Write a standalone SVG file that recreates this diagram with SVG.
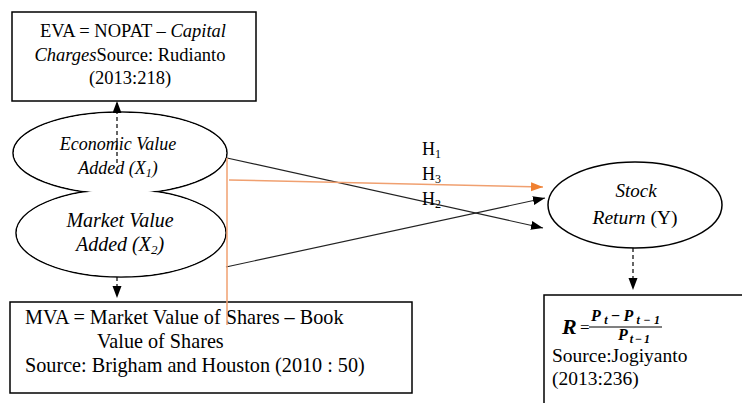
<svg xmlns="http://www.w3.org/2000/svg" width="742" height="403" viewBox="0 0 742 403">
<style>
.box{fill:#fff;stroke:#000;stroke-width:1.5}
.ol{fill:none;stroke:#000;stroke-width:1.5}
.fl{fill:#fff;stroke:none}
.t{font-family:"Liberation Serif",serif;font-size:18.5px;fill:#000}
.i{font-style:italic}
.ln{stroke:#222;stroke-width:1.2;fill:none}
.or{stroke:#f0a070;stroke-width:1.5;fill:none}
.dash{stroke:#000;stroke-width:1.2;stroke-dasharray:4,3;fill:none}
.m{font-family:"Liberation Serif",serif;font-weight:bold;font-style:italic;fill:#000}
</style>
<defs>
<marker id="ab" markerUnits="userSpaceOnUse" markerWidth="13" markerHeight="10" refX="12" refY="4.5" orient="auto"><path d="M0,0 L12,4.5 L0,9 z" fill="#000"/></marker>
<marker id="ao" markerUnits="userSpaceOnUse" markerWidth="13" markerHeight="10" refX="12" refY="4.5" orient="auto"><path d="M0,0 L12,4.5 L0,9 z" fill="#f08030"/></marker>
</defs>
<rect width="742" height="403" fill="#fff"/>
<g id="eva-box">
<rect class="box" x="12" y="12" width="244" height="89"/>
<text class="t" x="133" y="37" text-anchor="middle">EVA = NOPAT – <tspan class="i">Capital</tspan></text>
<text class="t" x="130" y="61" text-anchor="middle"><tspan class="i">Charges</tspan>Source: Rudianto</text>
<text class="t" x="130" y="84" text-anchor="middle">(2013:218)</text>
</g>
<g id="mva-box">
<rect class="box" x="10" y="302" width="402" height="91"/>
<text class="t" x="25" y="324" style="font-size:20.2px">MVA = Market Value of Shares – Book</text>
<text class="t" x="97" y="348" style="font-size:20.2px">Value of Shares</text>
<text class="t" x="25" y="372" style="font-size:20.2px">Source: Brigham and Houston (2010 : 50)</text>
</g>
<g id="r-box">
<rect class="box" x="544" y="295" width="210" height="120"/>
<text class="m" x="562" y="334" style="font-size:22px">R</text>
<text class="t" x="580" y="333" style="font-size:17px">=</text>
<text class="m" x="591" y="321" style="font-size:16px" textLength="69" lengthAdjust="spacing">P<tspan dy="3" font-size="12">t</tspan><tspan dy="-3" font-style="normal">−</tspan>P<tspan dy="3" font-size="12">t−1</tspan></text>
<line x1="589" y1="327" x2="662" y2="327" stroke="#000" stroke-width="1"/>
<text class="m" x="618" y="340" style="font-size:16px" textLength="32" lengthAdjust="spacing">P<tspan dy="3" font-size="12">t−1</tspan></text>
<text class="t" x="552" y="362" style="font-size:19.5px">Source:Jogiyanto</text>
<text class="t" x="552" y="385" style="font-size:19.5px">(2013:236)</text>
</g>
<g id="ellipse-outlines">
<ellipse class="ol" cx="120" cy="153" rx="107" ry="41"/>
<ellipse class="ol" cx="121" cy="233" rx="105" ry="44"/>
</g>
<g id="eva">
<ellipse class="fl" cx="120" cy="153" rx="106.2" ry="40.2"/>
<text class="t i" x="118" y="150" text-anchor="middle" style="font-size:18px">Economic Value</text>
<text class="t i" x="118" y="174" text-anchor="middle" style="font-size:18px">Added (X<tspan dy="3" font-size="12">1</tspan><tspan dy="-3">)</tspan></text>
</g>
<g id="mva">
<ellipse class="fl" cx="121" cy="233" rx="104.2" ry="43.2"/>
<text class="t i" x="120" y="227" text-anchor="middle" style="font-size:20px">Market Value</text>
<text class="t i" x="120" y="251" text-anchor="middle" style="font-size:20px">Added (X<tspan dy="3" font-size="13">2</tspan><tspan dy="-3">)</tspan></text>
</g>
<g id="stock">
<ellipse class="ol" cx="635" cy="205" rx="87" ry="43" fill="#fff" style="fill:#fff"/>
<text class="t i" x="636" y="197" text-anchor="middle" style="font-size:19px">Stock</text>
<text class="t" x="635" y="224" text-anchor="middle" style="font-size:19.5px"><tspan class="i">Return</tspan> (Y)</text>
</g>
<g id="connectors">
<line class="dash" x1="117" y1="163" x2="117" y2="101" marker-end="url(#ab)"/>
<line class="dash" x1="117" y1="277" x2="117" y2="298" marker-end="url(#ab)"/>
<line class="dash" x1="633" y1="248" x2="633" y2="290" marker-end="url(#ab)"/>
<line class="ln" x1="227" y1="158" x2="543" y2="228" marker-end="url(#ab)"/>
<line class="ln" x1="226" y1="267" x2="545" y2="198" marker-end="url(#ab)"/>
<line class="or" x1="227" y1="158" x2="227" y2="325"/>
<line class="or" x1="229" y1="180" x2="543" y2="187" marker-end="url(#ao)"/>
</g>
<g id="labels">
<text class="t" x="422" y="155" style="font-size:18px">H<tspan dy="3" font-size="12">1</tspan></text>
<text class="t" x="422" y="180" style="font-size:18px">H<tspan dy="3" font-size="12">3</tspan></text>
<text class="t" x="422" y="205" style="font-size:18px">H<tspan dy="3" font-size="12">2</tspan></text>
</g>
</svg>
